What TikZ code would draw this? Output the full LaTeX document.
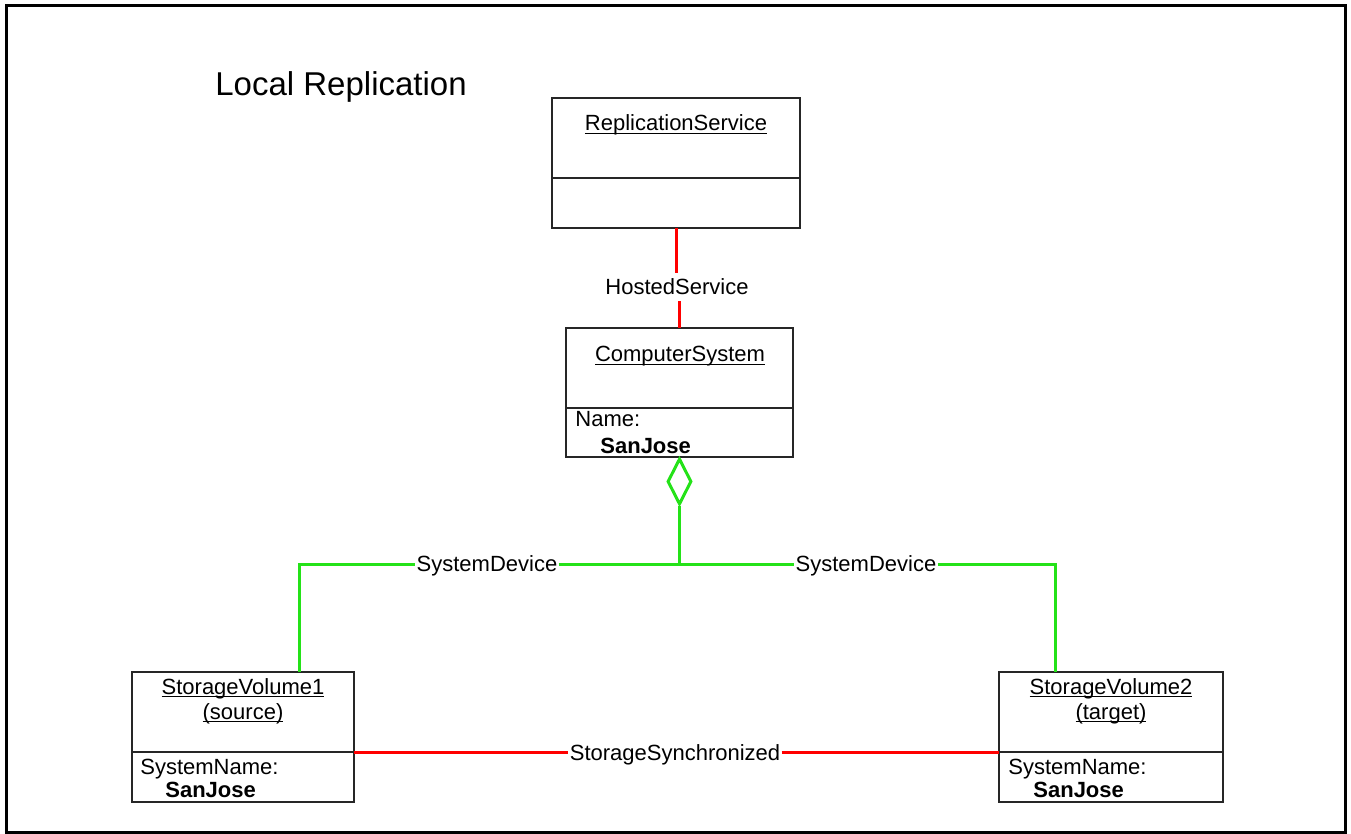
\documentclass[tikz,border=0pt]{standalone}
\usepackage{fontspec}
\setmainfont{Liberation Sans}
\usetikzlibrary{shapes.geometric}
\definecolor{linkred}{RGB}{255,0,0}
\definecolor{linkgreen}{RGB}{36,226,24}
\newcommand{\uname}[1]{\underline{\smash{#1}}}

\begin{document}
\begin{tikzpicture}[x=0.5pt,y=-0.5pt,
  umlbox/.style={draw=black!85,line width=0.6pt,inner sep=0pt,outer sep=0pt},
  boxtext/.style={font=\fontsize{11}{13}\selectfont,inner sep=0pt},
  lbl/.style={font=\fontsize{11}{13}\selectfont,inner xsep=0.5pt,inner ysep=3pt,text height=8pt,text depth=0pt},
  redlink/.style={draw=linkred,line width=1.5pt},
  greenlink/.style={draw=linkgreen,line width=1.5pt},
  aggr/.style={diamond,draw=linkgreen,line width=1.5pt,fill=white,inner sep=0pt,minimum width=12pt,minimum height=23pt}]
  \useasboundingbox (0,0) rectangle (1351,834);
  \draw[line width=1.5pt] (6,6) rectangle (1345,832);
  \node[font=\fontsize{16.5}{20}\selectfont,anchor=base west,inner sep=0pt] (title) at (215,96) {Local Replication};

  % classes
  \node[umlbox,minimum width=124pt,minimum height=65pt] (rs) at (676,163) {};
  \draw[umlbox] (rs.west |- 0,178) -- (rs.east |- 0,178);
  \node[boxtext,anchor=base] (rsname) at (676,131) {\uname{ReplicationService}};

  \node[umlbox,minimum width=113.5pt,minimum height=64.5pt] (cs) at (679.5,392.5) {};
  \draw[umlbox] (cs.west |- 0,408) -- (cs.east |- 0,408);
  \node[boxtext,anchor=base] (csname) at (680,362) {\uname{ComputerSystem}};
  \node[boxtext,anchor=base west] (csattr) at (575,427) {Name:};
  \node[boxtext,anchor=base west] (csval) at (600,454) {\bfseries SanJose};

  \node[umlbox,minimum width=111pt,minimum height=65pt] (sv1) at (243,737) {};
  \draw[umlbox] (sv1.west |- 0,752) -- (sv1.east |- 0,752);
  \node[boxtext,anchor=base] (sv1name) at (243,694) {\uname{StorageVolume1}};
  \node[boxtext,anchor=base] (sv1role) at (243,719) {\uname{(source)}};
  \node[boxtext,anchor=base west] (sv1attr) at (140,774) {SystemName:};
  \node[boxtext,anchor=base west] (sv1val) at (165,797) {\bfseries SanJose};

  \node[umlbox,minimum width=112pt,minimum height=65pt] (sv2) at (1111,737) {};
  \draw[umlbox] (sv2.west |- 0,752) -- (sv2.east |- 0,752);
  \node[boxtext,anchor=base] (sv2name) at (1111,694) {\uname{StorageVolume2}};
  \node[boxtext,anchor=base] (sv2role) at (1111,719) {\uname{(target)}};
  \node[boxtext,anchor=base west] (sv2attr) at (1008,774) {SystemName:};
  \node[boxtext,anchor=base west] (sv2val) at (1033,797) {\bfseries SanJose};

  % association labels
  \node[lbl] (hosted) at (677,287) {HostedService};
  \node[lbl] (sysdev1) at (487,564) {SystemDevice};
  \node[lbl] (sysdev2) at (866,564) {SystemDevice};
  \node[lbl] (sync) at (675,752) {StorageSynchronized};

  % associations
  \draw[redlink] (rs.south) -- (rs.south |- hosted.north);
  \draw[redlink] (cs.north) -- (cs.north |- hosted.south);
  \node[aggr,anchor=north] (agg) at (cs.south) {};
  \coordinate (junct) at (agg.south |- sysdev1);
  \draw[greenlink] (agg.south) -- (junct);
  \draw[greenlink] ([xshift=28pt]sv1.north) |- (sysdev1.west);
  \draw[greenlink] (sysdev1.east) -- (junct) -- (sysdev2.west);
  \draw[greenlink] (sysdev2.east) -| ([xshift=-28pt]sv2.north);
  \draw[redlink] (sv1.east |- sync) -- (sync.west);
  \draw[redlink] (sync.east) -- (sv2.west |- sync);
\end{tikzpicture}
\end{document}
